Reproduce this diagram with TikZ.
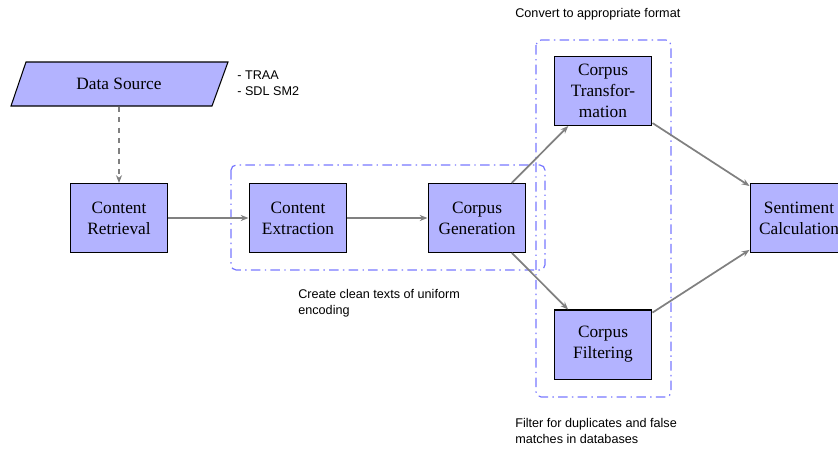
\documentclass[tikz,border=0pt]{standalone}
\usepackage{fontspec}
\setmainfont{Liberation Serif}
\newfontfamily\lblfont{Liberation Sans}
\usetikzlibrary{arrows.meta}
\definecolor{boxfill}{RGB}{179,179,255}
\definecolor{linegray}{RGB}{128,128,128}
\definecolor{groupblue}{RGB}{120,120,255}
\begin{document}
\begin{tikzpicture}[x=0.578pt,y=-0.578pt,
  box/.style={draw=black, line width=0.6pt, fill=boxfill, minimum width=56.6pt, minimum height=39.9pt, text width=50pt, align=center, inner sep=2pt, font=\fontsize{10}{12}\selectfont},
  conn/.style={draw=linegray, line width=1pt, -{Stealth[length=4.5pt,width=3.5pt]}},
  group/.style={draw=groupblue, line width=0.7pt, rounded corners=3pt, dash pattern=on 5.5pt off 2.5pt on 0.8pt off 2.5pt},
  lbl/.style={font=\lblfont\fontsize{7.3}{9.2}\selectfont, align=left, inner sep=0pt}]
\useasboundingbox (0,0) rectangle (838,448);

% groups
\draw[group] (231,165) rectangle (545,270);
\draw[group] (536,40) rectangle (671,397);

% data source parallelogram
\draw[line width=0.6pt, fill=boxfill] (26,62) -- (228,62) -- (212,106) -- (11,106) -- cycle;
\node[minimum width=100pt, minimum height=26pt, inner sep=0pt, font=\fontsize{10}{12}\selectfont] (ds) at (119,84) {Data Source};

% boxes
\node[box] (cr) at (119,218) {Content\\Retrieval};
\node[box] (ce) at (298,218) {Content\\Extraction};
\node[box] (cg) at (477,218) {Corpus\\Generation};
\node[box] (ct) at (603,91) {Corpus\\Transfor-\\mation};
\node[box] (cf) at (603,344.5) {Corpus\\Filtering};
\node[box] (sc) at (799,218) {Sentiment\\Calculation};

% connectors
\draw[conn, dashed] (ds.south) -- (cr.north);
\draw[conn] (cr) -- (ce);
\draw[conn] (ce) -- (cg);
\draw[conn] (cg) -- (ct);
\draw[conn] (cg) -- (cf);
\draw[conn] (ct) -- (sc);
\draw[conn] (cf) -- (sc);

% labels
\node[lbl, anchor=west] (l1) at (237,83) {- TRAA\\- SDL SM2};
\node[lbl, anchor=west] (l2) at (515,14) {Convert to appropriate format};
\node[lbl, anchor=west] (l3) at (298,303) {Create clean texts of uniform\\encoding};
\node[lbl, anchor=west] (l4) at (515,431) {Filter for duplicates and false\\matches in databases};
\end{tikzpicture}
\end{document}
